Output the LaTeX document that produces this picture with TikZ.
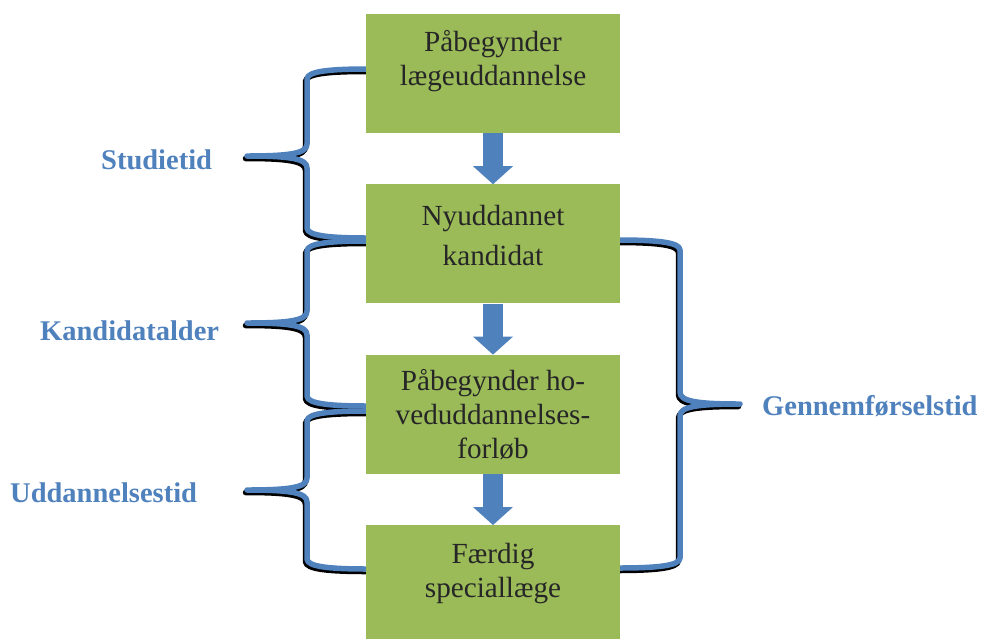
\documentclass[tikz,border=0pt]{standalone}
\usepackage{fontspec}
\setmainfont{Liberation Serif}
\usetikzlibrary{positioning, arrows.meta}

\definecolor{boxgreen}{HTML}{9BBB59}
\definecolor{flowblue}{HTML}{4F81BD}
\definecolor{ink}{HTML}{262626}

% curly bracket: style, arm x, spine x, tip x, top y, tip y, bottom y
\newcommand{\curly}[7]{%
  \draw[#1] (#2,#5) .. controls ({#3+0.4*(#2-#3)},#5) and (#3,{#5+2}) .. (#3,{#5+10})
    -- (#3,{#6-12}) .. controls (#3,{#6-3}) and ({#3+0.25*(#4-#3)},#6) .. (#4,#6)
    .. controls ({#3+0.25*(#4-#3)},#6) and (#3,{#6+3}) .. (#3,{#6+12})
    -- (#3,{#7-10}) .. controls (#3,{#7-2}) and ({#3+0.4*(#2-#3)},#7) .. (#2,#7);}
\newcommand{\allcurly}[1]{%
  \curly{#1}{368}{307}{247}{69}{156}{238}
  \curly{#1}{368}{307}{247}{241}{323}{406}
  \curly{#1}{368}{307}{247}{411}{490}{569}
  \curly{#1}{618}{680}{740}{240}{404}{568}}

\tikzset{
  box/.style={fill=boxgreen, minimum width=254pt, minimum height=119pt, inner sep=0pt},
  boxtext/.style={font=\fontsize{29.2}{34}\selectfont, text=ink, align=center, inner sep=0pt},
  bracelabel/.style={font=\fontsize{28.5}{34}\selectfont\bfseries, text=flowblue, inner sep=0pt},
  braceline/.style={draw=flowblue, line width=5.5pt, line join=round},
  braceshadow/.style={draw=black, line width=5.5pt, line join=round, shift={(-1.5,2.5)}},
  flow/.style={color=flowblue, line width=20pt, -{Triangle[width=40pt, length=18pt, line width=0pt]}}
}

\begin{document}
\begin{tikzpicture}[x=1pt, y=-1pt, node distance=51pt]
    \useasboundingbox (0,0) rectangle (984,638);

    % brackets behind the boxes
    \allcurly{braceshadow}
    \allcurly{braceline}

    \node[box] (b1) at (493,73.5) {};
    \node[box] (b2) [below=of b1] {};
    \node[box] (b3) [below=of b2] {};
    \node[box, minimum height=114pt] (b4) [below=of b3] {};

    \node[boxtext, below=14pt of b1.north] (t1) {\strut Påbegynder\\lægeuddannelse};
    \node[boxtext, below=17pt of b2.north] (t2) {\strut Nyuddannet\\[6pt]kandidat};
    \node[boxtext, below=12pt of b3.north] (t3) {\strut Påbegynder ho-\\veduddannelses-\\forløb};
    \node[boxtext, below=14pt of b4.north] (t4) {\strut Færdig\\speciallæge};

    \path[flow]
    (b1) edge (b2)
    (b2) edge (b3)
    (b3) edge (b4);

    \node[bracelabel, anchor=base west] (studie) at (101,169) {Studietid};
    \node[bracelabel, anchor=base west] (kandidat) at (40,340) {Kandidatalder};
    \node[bracelabel, anchor=base west] (uddannelse) at (10,502) {Uddannelsestid};
    \node[bracelabel, anchor=base west] (gennem) at (762,415) {Gennemførselstid};

\end{tikzpicture}
\end{document}
